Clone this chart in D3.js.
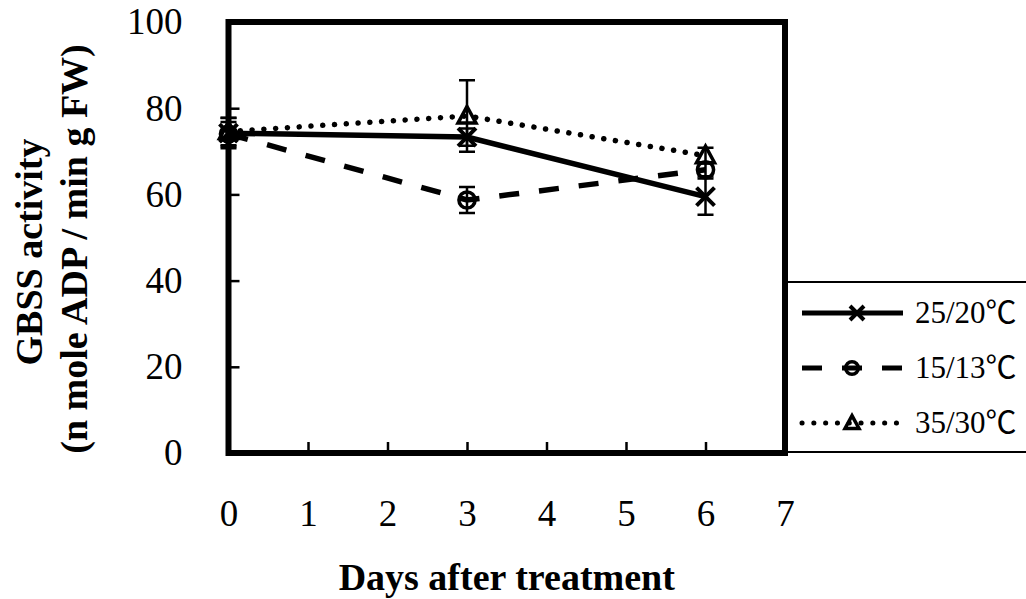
<!DOCTYPE html>
<html>
<head>
<meta charset="utf-8">
<script src="https://cdn.jsdelivr.net/npm/d3@7"></script>
<style>
    body { margin: 0; background: #fff; }
    svg text { font-family: "Liberation Serif", "Noto Sans CJK TC", serif; fill: #000; }
</style>
</head>
<body>
<svg id="chart" width="1026" height="599"></svg>
<script>
var days = [0, 3, 6];
var seriesNames = ["25/20℃", "15/13℃", "35/30℃"];
var warmValues = [74.2, 73.3, 59.5];
var warmErrors = [3.5, 2.0, 4.2];
var coolValues = [74.0, 58.7, 65.7];
var coolErrors = [2.8, 3.0, 1.5];
var hotValues = [74.6, 78.2, 69.0];
var hotErrors = [3.2, 8.3, 1.8];
var yTicks = [0, 20, 40, 60, 80, 100];
var xTicks = [0, 1, 2, 3, 4, 5, 6, 7];


function Chart() {
    var self = this;
    self.init();
}


Chart.prototype.init = function () {

    var self = this;

    var svg = d3.select("#chart");

    var left = 228.5, right = 785, top = 22, bottom = 453;

    var x = d3.scaleLinear().domain([0, 7]).range([left, right]);
    var y = d3.scaleLinear().domain([0, 100]).range([bottom, top]);

    var series = [
        {name: seriesNames[0], values: warmValues, errors: warmErrors, dash: null, cap: "butt", marker: "x"},
        {name: seriesNames[1], values: coolValues, errors: coolErrors, dash: "20 20", cap: "butt", marker: "circle"},
        {name: seriesNames[2], values: hotValues, errors: hotErrors, dash: "0.1 11.7", cap: "round", marker: "triangle"}
    ];

    // axes, ticks point inward
    svg.append("g")
        .attr("transform", "translate(" + left + ",0)")
        .call(d3.axisLeft(y).tickValues(yTicks).tickSize(-11).tickPadding(46))
        .call(function (g) {
            g.select(".domain").remove();
            g.selectAll("line").attr("stroke", "#000").attr("stroke-width", 2.5);
            g.selectAll("text").attr("font-size", 37);
        });

    svg.append("g")
        .attr("transform", "translate(0," + bottom + ")")
        .call(d3.axisBottom(x).tickValues(xTicks).tickSize(-11).tickPadding(47).tickFormat(d3.format("d")))
        .call(function (g) {
            g.select(".domain").remove();
            g.selectAll("line").attr("stroke", "#000").attr("stroke-width", 2.5);
            g.selectAll("text").attr("font-size", 37);
        });

    // legend box
    svg.append("line").attr("x1", right).attr("x2", 1026).attr("y1", 282).attr("y2", 282)
        .attr("stroke", "#000").attr("stroke-width", 2);
    svg.append("line").attr("x1", right).attr("x2", 1026).attr("y1", 452).attr("y2", 452)
        .attr("stroke", "#000").attr("stroke-width", 2);

    // plot frame
    svg.append("rect")
        .attr("x", left).attr("y", top)
        .attr("width", right - left).attr("height", bottom - top)
        .attr("fill", "none")
        .attr("stroke", "#000")
        .attr("stroke-width", 6);

    var line = d3.line()
        .x(function (d, i) { return x(days[i]); })
        .y(function (d) { return y(d); });

    function drawMarker(g, type, cx, cy, s) {
        if (type == "x") {
            g.append("path")
                .attr("d", "M" + (cx - s) + "," + (cy - s) + "L" + (cx + s) + "," + (cy + s) +
                    "M" + (cx - s) + "," + (cy + s) + "L" + (cx + s) + "," + (cy - s))
                .attr("stroke", "#000").attr("stroke-width", 4).attr("fill", "none");
        } else if (type == "circle") {
            g.append("circle").attr("cx", cx).attr("cy", cy).attr("r", s * 0.9)
                .attr("stroke", "#000").attr("stroke-width", 3.5).attr("fill", "none");
        } else {
            var h = s * 1.05;
            g.append("path")
                .attr("d", "M" + cx + "," + (cy - h) + "L" + (cx + s) + "," + (cy + h * 0.75) +
                    "L" + (cx - s) + "," + (cy + h * 0.75) + "Z")
                .attr("stroke", "#000").attr("stroke-width", 3.5).attr("fill", "none")
                .attr("stroke-linejoin", "miter");
        }
    }

    series.forEach(function (s) {
        var g = svg.append("g");

        g.append("path")
            .attr("d", line(s.values))
            .attr("fill", "none")
            .attr("stroke", "#000")
            .attr("stroke-width", 5.5)
            .attr("stroke-linecap", s.cap)
            .attr("stroke-dasharray", s.dash);

        // error bars
        s.values.forEach(function (v, i) {
            var cx = x(days[i]);
            var lo = y(v - s.errors[i]), hi = y(v + s.errors[i]);
            g.append("path")
                .attr("d", "M" + cx + "," + lo + "L" + cx + "," + hi +
                    "M" + (cx - 8) + "," + lo + "L" + (cx + 8) + "," + lo +
                    "M" + (cx - 8) + "," + hi + "L" + (cx + 8) + "," + hi)
                .attr("stroke", "#000").attr("stroke-width", 2.5).attr("fill", "none");
            drawMarker(g, s.marker, cx, y(v), 9);
        });
    });

    // legend rows
    var rowY = [313, 368, 423];
    series.forEach(function (s, i) {
        var g = svg.append("g");
        g.append("line")
            .attr("x1", 802).attr("x2", 903).attr("y1", rowY[i]).attr("y2", rowY[i])
            .attr("stroke", "#000").attr("stroke-width", 5)
            .attr("stroke-linecap", s.cap)
            .attr("stroke-dasharray", s.dash);
        drawMarker(g, s.marker, s.marker == "x" ? 857 : 852, rowY[i], 7);
        g.append("text")
            .attr("x", 915).attr("y", rowY[i] + 10)
            .attr("font-size", 31)
            .text(s.name);
    });

    // axis titles
    svg.append("text")
        .attr("x", (left + right) / 2).attr("y", 590)
        .attr("text-anchor", "middle")
        .attr("font-size", 38).attr("font-weight", "bold")
        .text("Days after treatment");

    svg.append("text")
        .attr("transform", "translate(42,252) rotate(-90)")
        .attr("text-anchor", "middle")
        .attr("font-size", 38).attr("font-weight", "bold")
        .text("GBSS activity");

    svg.append("text")
        .attr("transform", "translate(87,249) rotate(-90)")
        .attr("text-anchor", "middle")
        .attr("font-size", 38).attr("font-weight", "bold")
        .text("(n mole ADP / min g FW)");
}

new Chart();
</script>
</body>
</html>
